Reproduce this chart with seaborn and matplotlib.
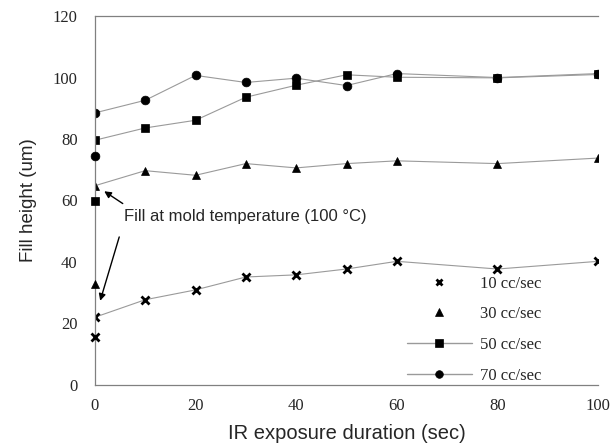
import numpy as np
import pandas as pd
import matplotlib
matplotlib.use("Agg")
import matplotlib.pyplot as plt
from matplotlib.lines import Line2D
import seaborn as sns

sns.set_style("white")
plt.rcParams["font.family"] = ["Liberation Serif", "DejaVu Serif"]

# IR exposure duration (sec)
x_ir = [0, 10, 20, 30, 40, 50, 60, 80, 100]

# fill height (um) per flow rate, with mold at 100 C
h_10 = [22.0, 27.7, 30.9, 35.1, 35.8, 37.7, 40.2, 37.7, 40.2]
h_30 = [64.8, 69.7, 68.2, 72.0, 70.6, 72.0, 72.9, 72.0, 73.8]
h_50 = [79.6, 83.6, 86.1, 93.6, 97.5, 100.9, 100.1, 99.9, 101.0]
h_70 = [88.5, 92.6, 100.7, 98.4, 99.8, 97.4, 101.3, 100.0, 101.3]

# separate points at 0 sec
h_zero = [15.5, 32.8, 59.7, 74.6]

labels = ["10 cc/sec", "30 cc/sec", "50 cc/sec", "70 cc/sec"]
markers = ["x", "^", "s", "o"]

rows = []
for lab, vals in zip(labels, [h_10, h_30, h_50, h_70]):
    for xv, yv in zip(x_ir, vals):
        rows.append({"t": xv, "h": yv, "rate": lab})
df = pd.DataFrame(rows)
df0 = pd.DataFrame({"t": [0] * 4, "h": h_zero, "rate": labels})

LINE_C = "#9a9a9a"

fig = plt.figure(figsize=(6.16, 4.47), dpi=100)
ax = fig.add_axes([0.154, 0.139, 0.817, 0.825])

# draw 70 first so the 50 squares sit on top
for lab, mk in reversed(list(zip(labels, markers))):
    ms = 5.5 if mk == "x" else 6.3
    mew = 2 if mk == "x" else 0.5
    sub = df[df["rate"] == lab]
    sns.lineplot(data=sub, x="t", y="h", ax=ax, sort=False, estimator=None,
                 color=LINE_C, linewidth=0.8, marker=mk, markersize=ms,
                 markerfacecolor="k", markeredgecolor="k",
                 markeredgewidth=mew, legend=False)
    p0 = df0[df0["rate"] == lab]
    ax.plot(p0["t"], p0["h"], ls="none", marker=mk, color="k",
            markersize=ms, markeredgewidth=mew, clip_on=False, zorder=5)

ax.set_xlim(0, 100)
ax.set_ylim(0, 120)
ax.set_xticks(range(0, 101, 20))
ax.set_yticks(range(0, 121, 20))
ax.tick_params(axis="both", direction="out", length=3.5, color="#808080",
               labelsize=12)
ax.tick_params(axis="y", pad=9)
ax.tick_params(axis="x", pad=6)
for side in ["left", "bottom", "top"]:
    ax.spines[side].set_color("#808080")
    ax.spines[side].set_linewidth(0.9)
ax.spines["right"].set_visible(False)
for lbl in ax.get_xticklabels() + ax.get_yticklabels():
    lbl.set_family(["Liberation Serif"])

ax.set_xlabel("IR exposure duration (sec)", family=["Liberation Sans"], fontsize=14.5, labelpad=7)
ax.set_ylabel("Fill height (um)", family=["Liberation Sans"], fontsize=13.5, labelpad=11)

# annotation with two arrows
ax.text(5.8, 54.8, "Fill at mold temperature (100 \u00b0C)", family=["Liberation Sans"],
        fontsize=12, va="center", ha="left")
ax.annotate("", xy=(1.4, 63.5), xytext=(6.0, 58.5),
            arrowprops=dict(arrowstyle="-|>", color="k", lw=1.0, mutation_scale=10))
ax.annotate("", xy=(0.9, 26.5), xytext=(5.0, 49.0),
            arrowprops=dict(arrowstyle="-|>", color="k", lw=1.0, mutation_scale=10))

handles = []
for i, (lab, mk) in enumerate(zip(labels, markers)):
    ls = "-" if i >= 2 else "none"
    handles.append(Line2D([], [], color=LINE_C, ls=ls, lw=1.0, marker=mk,
                          markerfacecolor="k", markeredgecolor="k",
                          markersize=5.5 if mk != "x" else 5,
                          markeredgewidth=2 if mk == "x" else 0.5))
leg = ax.legend(handles, labels, loc="lower right", bbox_to_anchor=(0.911, -0.028),
                frameon=False, fontsize=12, handlelength=3.9, handletextpad=0.5,
                labelspacing=0.88, borderpad=0.2)
for t in leg.get_texts():
    t.set_family(["Liberation Serif"])

fig.savefig("out.png", dpi=100)
